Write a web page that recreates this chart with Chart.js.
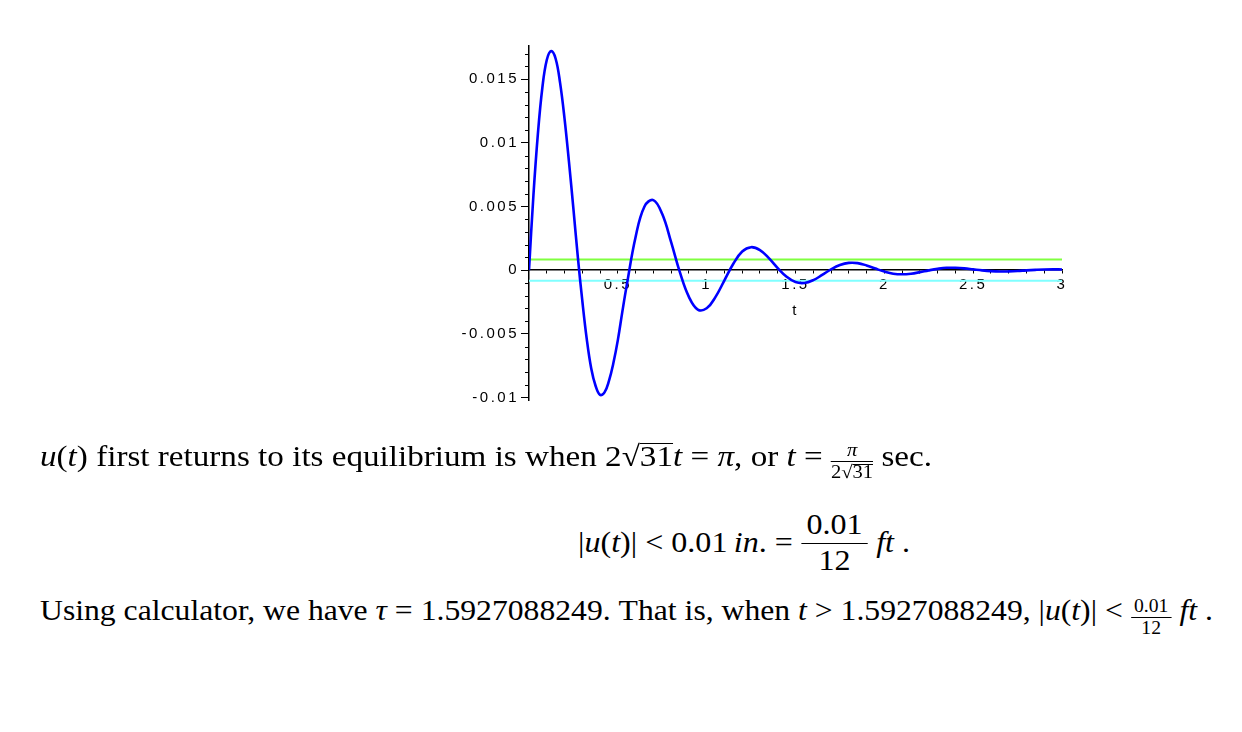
<!DOCTYPE html>
<html>
<head>
<meta charset="utf-8">
<script src="https://cdn.jsdelivr.net/npm/chart.js@4.4.1/dist/chart.umd.min.js"></script>
<style>
  body { margin: 0; background: #fff; }
  #page { position: relative; width: 1242px; height: 732px; overflow: hidden; }
  #plot { position: absolute; left: 440px; top: 30px; width: 640px; height: 420px; }
  .ln { position: absolute; white-space: nowrap; font-family: 'Liberation Serif', serif; font-size: 29px; line-height: 30px; color: #000; transform-origin: 0 0; }
  .fr { display: inline-block; text-align: center; font-size: 0.62em; line-height: 1.05; }
  .fr > span { display: block; }
  .fr .nu { border-bottom: 1px solid #000; padding: 0 3px 1px; }
  .fr .de { padding-top: 1px; }
  .fr.big { font-size: 1em; line-height: 1.1; }
  .fr.big .nu { padding: 0 5px 2px; }
  .ov { display: inline-block; line-height: 0.84em; border-top: 1px solid #000; }
  .bl { display: inline-block; width: 0; height: 0; }
</style>
</head>
<body>
<div id="page">
  <canvas id="plot" width="640" height="420"></canvas>

  <div class="ln" style="left:40px; top:441px" data-base="466" data-w="892"><span class="bl"></span><i>u</i>(<i>t</i>) first returns to its equilibrium is when 2√<span class="ov">31</span><i>t</i> = <i>π</i>, or <i>t</i> = <span class="fr" style="vertical-align:-12px"><span class="nu"><i>π</i></span><span class="de">2√<span class="ov">31</span></span></span> sec.</div>

  <div class="ln" style="left:578px; top:527px" data-base="552" data-w="332"><span class="bl"></span>|<i>u</i>(<i>t</i>)| &lt; 0.01<i>&thinsp;in</i>. = <span class="fr big" style="vertical-align:-18px"><span class="nu">0.01</span><span class="de">12</span></span> <i>ft</i> .</div>

  <div class="ln" style="left:40px; top:595px" data-base="620" data-w="1173"><span class="bl"></span>Using calculator, we have <i>τ</i> = 1.5927088249. That is, when <i>t</i> &gt; 1.5927088249, |<i>u</i>(<i>t</i>)| &lt; <span class="fr" style="vertical-align:-14px"><span class="nu">0.01</span><span class="de">12</span></span> <i>ft</i> .</div>
</div>

<script>
// время t (сек) и смещение u(t) (фут)
const tValues = [0, 0.025, 0.05, 0.075, 0.1, 0.125, 0.15, 0.175, 0.2, 0.225, 0.25, 0.275,
    0.3, 0.325, 0.35, 0.375, 0.4, 0.425, 0.45, 0.475, 0.5, 0.525, 0.55,
    0.6, 0.65, 0.7, 0.75, 0.8, 0.85, 0.9, 0.95, 1.0, 1.05, 1.1, 1.15, 1.2, 1.25,
    1.3, 1.35, 1.4, 1.45, 1.5, 1.55, 1.6, 1.65, 1.7, 1.75, 1.8, 1.85, 1.9, 1.95,
    2.0, 2.05, 2.1, 2.15, 2.2, 2.25, 2.3, 2.35, 2.4, 2.45, 2.5, 2.55, 2.6, 2.65,
    2.7, 2.75, 2.8, 2.85, 2.9, 2.95, 3.0];
const uValues = [0, 0.0059, 0.0107, 0.0143, 0.0165, 0.0172, 0.0166, 0.0147, 0.0119, 0.0085, 0.0048, 0.0010,
    -0.0024, -0.0054, -0.0077, -0.0091, -0.0098, -0.0096, -0.0087, -0.0073, -0.0055, -0.0033, -0.0012,
    0.0026, 0.0050, 0.0055, 0.0044, 0.0022, -0.0002, -0.0021, -0.0031, -0.0030, -0.0021, -0.0008, 0.0005, 0.00146, 0.0018,
    0.00157, 0.00094, 0.00016, -0.00052, -0.00094, -0.00101, -0.00079, -0.00038, 0.00006, 0.0004, 0.00057, 0.00055, 0.00037, 0.00012,
    -0.00011, -0.00028, -0.00033, -0.00028, -0.00016, -0.00002, 0.0001, 0.00018, 0.00018, 0.00014, 0.00006, -0.00002, -0.00008, -0.00011,
    -0.0001, -0.00007, -0.00002, 0.00002, 0.00005, 0.00006, 0.00005];

// граница |u| < 0.01 in = 0.01/12 ft
const tolerance = 0.00083;
const tRange = [0, 3];

// деления осей
const xTickValues = [0.1, 0.2, 0.3, 0.4, 0.5, 0.6, 0.7, 0.8, 0.9, 1, 1.1, 1.2, 1.3, 1.4, 1.5,
    1.6, 1.7, 1.8, 1.9, 2, 2.1, 2.2, 2.3, 2.4, 2.5, 2.6, 2.7, 2.8, 2.9, 3];
const xLabelTicks = [0.5, 1, 1.5, 2, 2.5, 3];
const yLabelTicks = [-0.01, -0.005, 0, 0.005, 0.01, 0.015];
const yMinorTicks = [-0.009, -0.008, -0.007, -0.006, -0.004, -0.003, -0.002, -0.001,
    0.001, 0.002, 0.003, 0.004, 0.006, 0.007, 0.008, 0.009,
    0.011, 0.012, 0.013, 0.014, 0.016, 0.017];

const curve = tValues.map((t, i) => ({ x: t, y: uValues[i] }));
const upper = tRange.map(t => ({ x: t, y: tolerance }));
const lower = tRange.map(t => ({ x: t, y: -tolerance }));

const tickFont = { family: 'Liberation Sans', size: 15 };

// мелкие деления на оси y
const minorTicks = {
    id: 'minorTicks',
    afterDraw(chart) {
        const { ctx, scales: { y } } = chart;
        ctx.save();
        ctx.strokeStyle = '#000';
        ctx.lineWidth = 1;
        ctx.beginPath();
        yMinorTicks.forEach(v => {
            const py = Math.round(y.getPixelForValue(v)) + 0.5;
            ctx.moveTo(y.right - 4, py);
            ctx.lineTo(y.right, py);
        });
        ctx.stroke();
        ctx.restore();
    }
};

const wideText = {
    id: 'wideText',
    beforeDraw(chart) {
        chart.ctx.letterSpacing = '2.5px';
    }
};

new Chart(document.getElementById('plot'), {
    type: 'line',
    data: {
        datasets: [
            { data: curve, borderColor: '#0000ff', borderWidth: 2.6, pointRadius: 0, tension: 0.4, order: 1 },
            { data: upper, borderColor: '#80ff40', borderWidth: 2, pointRadius: 0, order: 2 },
            { data: lower, borderColor: '#80ffff', borderWidth: 2, pointRadius: 0, order: 2 }
        ]
    },
    options: {
        responsive: false,
        animation: false,
        layout: { padding: { top: 16, right: 18, left: 0, bottom: 50 } },
        plugins: { legend: { display: false }, tooltip: { enabled: false } },
        scales: {
            x: {
                type: 'linear',
                min: tRange[0],
                max: tRange[1],
                position: { y: 0 },
                z: 1,
                afterBuildTicks: s => { s.ticks = xTickValues.map(v => ({ value: v })); },
                afterFit: s => { s.height = 50; },
                ticks: {
                    autoSkip: false,
                    maxRotation: 0,
                    padding: 3,
                    color: '#000',
                    font: tickFont,
                    callback: v => xLabelTicks.includes(v) ? String(v) : ''
                },
                grid: { drawOnChartArea: false, tickLength: 3, tickColor: '#000', tickWidth: 1 },
                border: { color: '#000', width: 1.5 },
                title: { display: true, text: 't', color: '#000', font: tickFont, padding: 0 }
            },
            y: {
                type: 'linear',
                min: -0.0102,
                max: 0.0176,
                position: 'left',
                afterBuildTicks: s => { s.ticks = yLabelTicks.map(v => ({ value: v })); },
                afterFit: s => { s.width = 89; },
                ticks: { padding: 2, color: '#000', font: tickFont, callback: v => String(v) },
                grid: { drawOnChartArea: false, tickLength: 8, tickColor: '#000', tickWidth: 1 },
                border: { color: '#000', width: 1.5 }
            }
        }
    },
    plugins: [minorTicks, wideText]
});

// подгоняем строки текста по базовой линии и ширине
document.querySelectorAll('.ln').forEach(el => {
    const w = el.getBoundingClientRect().width;
    const m = el.querySelector('.bl').getBoundingClientRect();
    el.style.top = (parseFloat(el.style.top) + (+el.dataset.base - m.bottom)) + 'px';
    el.style.transform = 'scaleX(' + (+el.dataset.w / w) + ')';
});
</script>
</body>
</html>
